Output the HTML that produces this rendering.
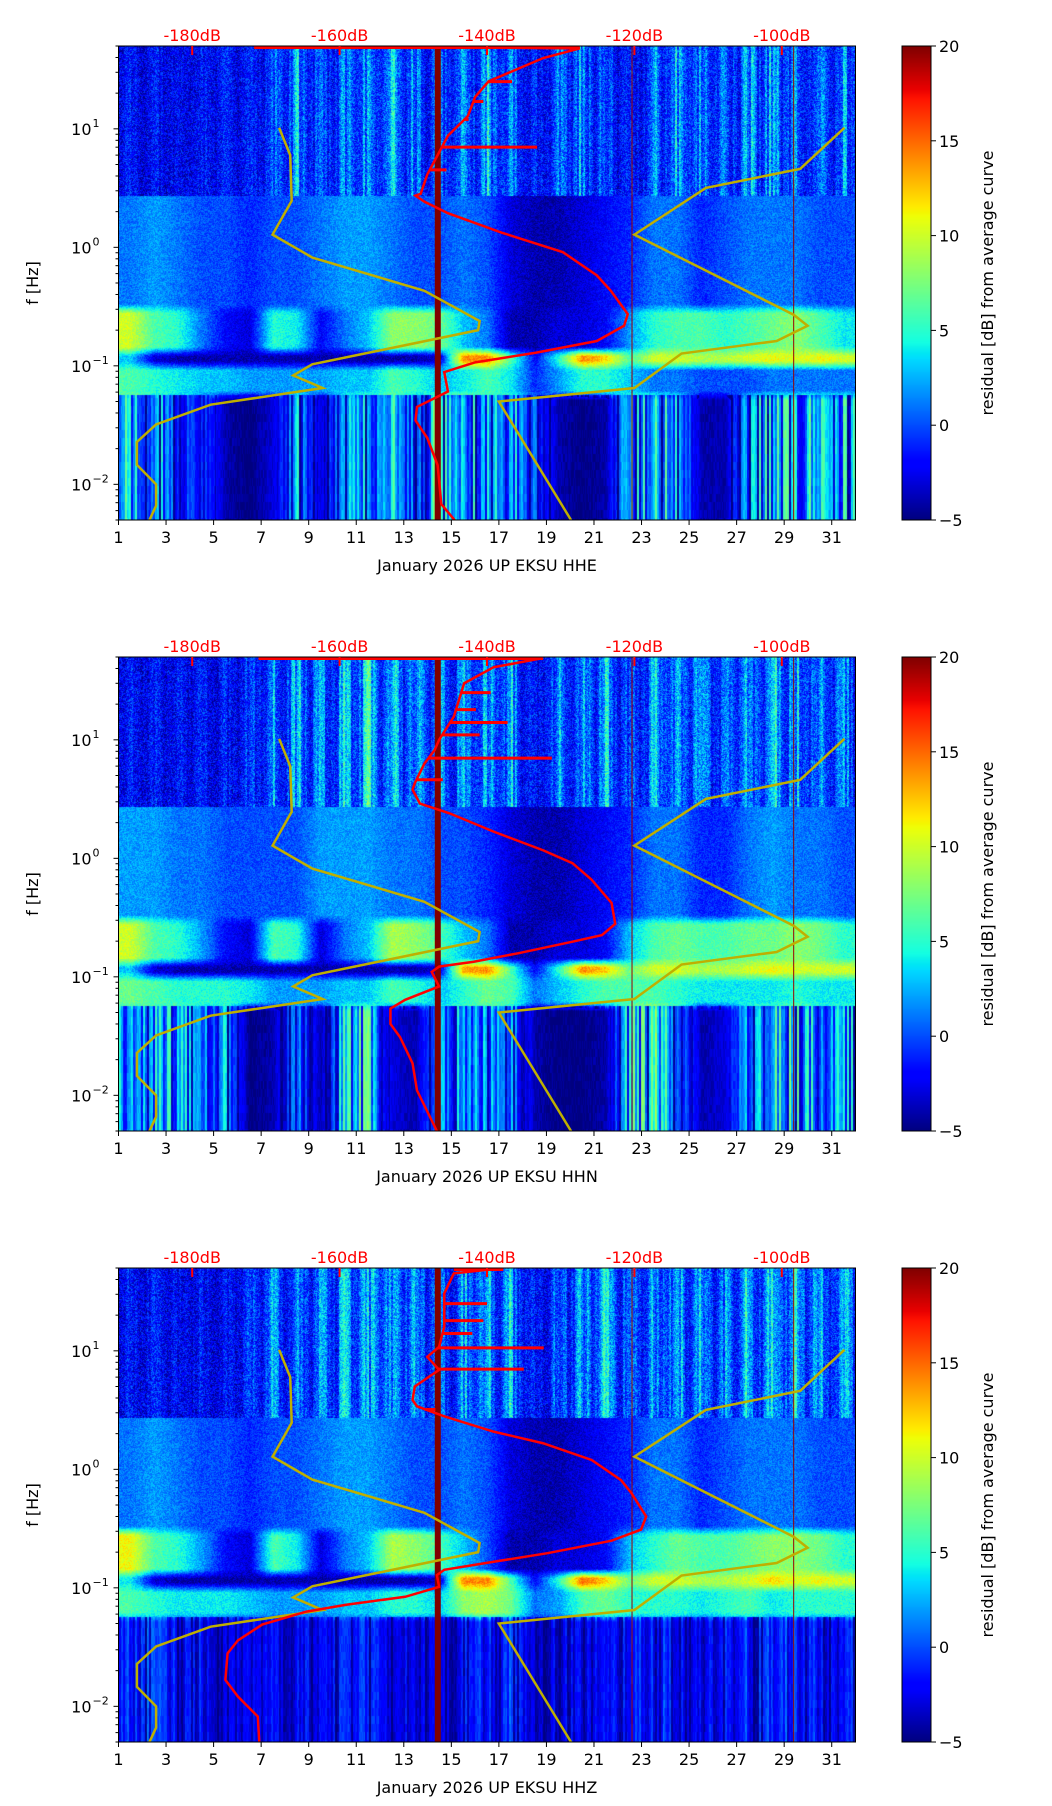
<!DOCTYPE html>
<html><head><meta charset="utf-8">
<style>
html,body{margin:0;padding:0;background:#fff;}
#root{position:relative;width:1052px;height:1806px;overflow:hidden;font-family:"DejaVu Sans","Liberation Sans",sans-serif;}
canvas{position:absolute;}
svg{position:absolute;left:0;top:0;}
</style></head>
<body>
<div id="root">
<svg id="ov" width="1052" height="1806"></svg>
</div>
<script>
// ---------- data ----------
const titles = ["January 2026 UP EKSU  HHE","January 2026 UP EKSU  HHN","January 2026 UP EKSU  HHZ"];
const dayTicks = [1,3,5,7,9,11,13,15,17,19,21,23,25,27,29,31];
const dbTicks = [-180,-160,-140,-120,-100];
const cbTicks = [-5,0,5,10,15,20];
// residual dB per day interval (day 1..31) per frequency band
const p1High=[0,0,0,0,0,0,2,4,2,3,4,4,3,2,4,4,3,0,3,4,2,0,3,4,3,2,4,4,3,2,3];
const p1Mid=[1,2,1,0,0,-1,0,0,1,2,2,1,0,0,1,0,-3,-4,-4,-3,-2,-1,1,1,-1,0,1,1,1,0,0];
const p1Ms=[10,6,5,1,-2,-3,5,4,-2,1,3,8,8,7,3,1,-4,-4,-3,-3,-2,2,5,6,6,5,6,7,8,6,4];
const p1B01=[3,-3,-4,-4,-4,-4,-4,-4,-4,-4,-4,-4,-4,-3,14,14,6,-2,5,14,12,6,10,10,9,9,10,11,10,11,10];
const p1LowMid=[6,5,4,3,3,2,2,2,2,3,3,6,5,3,4,6,4,-1,2,5,5,3,1,1,0,0,0,1,1,1,1];
const p1Low=[7,5,4,1,-4,-5,-3,6,-3,5,7,7,2,10,9,5,6,2,-4,-5,-4,7,8,6,-4,-4,5,7,8,7,7];
const p2High=[0,0,0,0,0,1,3,4,3,4,5,5,4,3,4,4,4,0,3,4,4,1,4,5,4,2,4,5,4,4,3];
const p2Mid=[2,2,1,1,0,0,0,0,2,2,2,1,1,0,0,-1,-3,-4,-4,-3,-2,-1,1,1,-1,-1,1,2,1,1,0];
const p2Ms=[10,6,5,2,-2,-3,6,5,-3,1,3,9,8,6,3,1,-4,-4,-3,-3,-2,3,6,7,6,6,7,7,8,7,5];
const p2B01=[3,-3,-4,-4,-4,-4,-4,-4,-4,-4,-4,-4,-4,-3,13,14,6,-2,5,14,12,7,10,10,9,9,10,11,10,10,10];
const p2LowMid=[7,6,5,5,5,4,2,2,2,3,3,6,5,3,5,7,6,1,3,5,6,6,6,5,4,4,4,4,5,4,4];
const p2Low=[5,6,7,3,5,-5,-4,3,-4,7,8,-3,-4,5,6,5,4,-4,-5,-5,-4,8,10,6,-4,-3,6,7,8,6,6];
const p3High=[0,0,0,0,0,1,3,3,3,4,4,5,4,3,4,4,4,0,3,4,5,2,4,5,4,3,5,5,5,4,4];
const p3Mid=[1,2,1,0,0,-1,0,0,1,2,2,1,0,0,1,0,-3,-4,-4,-3,-2,-1,1,1,-1,0,1,1,1,0,0];
const p3Ms=[11,6,5,2,-2,-3,6,4,-3,1,3,9,8,6,3,0,-4,-4,-3,-3,-2,3,5,7,6,6,7,8,8,7,5];
const p3B01=[4,-3,-4,-4,-4,-4,-4,-4,-4,-4,-4,-4,-4,-3,14,14,6,-2,5,15,12,7,10,10,9,9,10,12,10,11,10];
const p3LowMid=[6,5,4,4,4,3,2,2,2,3,3,5,5,3,8,9,7,1,2,6,7,5,5,5,4,5,6,4,5,5,5];
const p3Low=[1,1,0,0,-1,-1,-1,0,-1,0,0,-1,-1,-1,0,0,1,-2,-1,-1,-1,0,1,0,-1,0,1,1,1,0,0];
// noise model curves (freq Hz, dB)
const nlnmFreq=[10.2,6.0,2.47,1.28,0.82,0.43,0.239,0.2,0.103,0.083,0.065,0.047,0.032,0.0228,0.0146,0.01,0.0066,0.005];
const nlnmDb=[-168.2,-166.7,-166.5,-169.1,-163.7,-148.5,-141.0,-141.2,-163.7,-166.3,-162.3,-177.5,-184.9,-187.5,-187.5,-184.9,-184.9,-185.8];
const nhnmFreq=[10.2,4.6,3.17,1.28,0.27,0.218,0.162,0.127,0.065,0.05,0.005];
const nhnmDb=[-91.5,-97.5,-110.3,-120.0,-98.4,-96.5,-100.7,-113.6,-120.0,-138.4,-128.6];
// average PSD curves
const red1Freq=[50,47.8,39.5,31.5,25.1,18.6,12.8,8.75,6.0,4.12,2.83,2.73,2.43,1.94,1.33,0.91,0.58,0.43,0.273,0.218,0.162,0.129,0.107,0.0885,0.0607,0.045,0.0346,0.0246,0.0145,0.0068,0.005];
const red1Db=[-171.6,-127.4,-132.4,-136.1,-139.8,-141.6,-142.6,-145.3,-146.7,-148.1,-149.0,-149.7,-148.5,-145.3,-138.0,-129.7,-125.1,-123.2,-120.9,-121.4,-125.1,-133.4,-141.6,-145.8,-145.3,-149.5,-149.7,-148.1,-146.7,-146.2,-144.4];
const red2Freq=[50,49,41,30,15.7,10,8.2,6.3,4.3,3.8,2.9,2.4,1.68,1.17,0.91,0.66,0.42,0.28,0.225,0.198,0.158,0.134,0.122,0.11,0.083,0.064,0.054,0.040,0.031,0.0186,0.011,0.005];
const red2Db=[-171,-132.4,-139.1,-143.1,-144.5,-146.5,-147.1,-148.5,-149.8,-150.1,-149.1,-145.1,-139.1,-132.4,-128.4,-125.8,-123.1,-122.6,-124.4,-128.4,-135.8,-141.8,-146.5,-147.5,-146.5,-151.1,-153.1,-153.1,-151.8,-150.1,-149.5,-146.8];
const red3Freq=[50,45,30.5,16,10.8,8.9,6.9,5,3.85,3.4,2.8,2.08,1.66,1.2,0.81,0.63,0.40,0.31,0.25,0.196,0.166,0.142,0.128,0.102,0.084,0.072,0.063,0.049,0.036,0.028,0.0167,0.0121,0.0082,0.005];
const red3Db=[-137.8,-144.5,-145.8,-145.8,-146.5,-148.1,-146.5,-149.8,-150.1,-149.5,-145.8,-139.1,-132.4,-125.8,-121.8,-120.4,-118.4,-119.1,-123.1,-131.8,-139.1,-145.8,-146.8,-146.5,-151.1,-159.1,-164.5,-170.5,-173.8,-175.2,-175.5,-173.8,-171.1,-170.9];
const spike1Freq=[7.0,25,17,12,4.5];
const spike1Db=[-133.2,-136.6,-140.5,-142.5,-145.5];
const spike2Freq=[7.0,14,11,25,18,4.6];
const spike2Db=[-131.2,-137.2,-141,-139.5,-141.5,-146];
const spike3Freq=[7.0,10.6,18,25,14,3.2];
const spike3Db=[-135,-132.3,-140.5,-140,-142,-147];
const vbarDay=14.43, thinDays=[22.6,29.4];

const panels=[
 {top:46, bands:[p1High,p1Mid,p1Ms,p1B01,p1LowMid,p1Low], rf:red1Freq, rd:red1Db, sf:spike1Freq, sd:spike1Db},
 {top:657,bands:[p2High,p2Mid,p2Ms,p2B01,p2LowMid,p2Low], rf:red2Freq, rd:red2Db, sf:spike2Freq, sd:spike2Db},
 {top:1268,bands:[p3High,p3Mid,p3Ms,p3B01,p3LowMid,p3Low], rf:red3Freq, rd:red3Db, sf:spike3Freq, sd:spike3Db}
];
// ---------- geometry ----------
const X0=118.5, W=737, H=474, LT=Math.log10(50), LB=Math.log10(0.005);
const CBX=902, CBW=29;
function xDay(d){return X0+(d-1)/31*W;}
function xDb(db){return X0+(db+190)/100*W;}
function yF(f,top){return top+(LT-Math.log10(f))/(LT-LB)*H;}
function yCb(v,top){return top+H-(v+5)/25*H;}
function lerp(pts,t){for(let i=1;i<pts.length;i++){if(t<=pts[i][0]){const a=pts[i-1],b=pts[i];return a[1]+(b[1]-a[1])*(t-a[0])/(b[0]-a[0]);}}return pts[pts.length-1][1];}
function jet(v){let t=Math.max(0,Math.min(1,(v+5)/25));
 const r=lerp([[0,0],[0.35,0],[0.66,1],[0.89,1],[1,0.5]],t);
 const g=lerp([[0,0],[0.125,0],[0.375,1],[0.64,1],[0.91,0],[1,0]],t);
 const b=lerp([[0,0.5],[0.11,1],[0.34,1],[0.65,0],[1,0]],t);
 return [r*255|0,g*255|0,b*255|0];}
function hash(a,b){let h=(a*374761393+b*668265263)|0;h=(h^(h>>>13))*1274126177|0;return ((h^(h>>>16))>>>0)/4294967295;}
const edges=[0.43,-0.52,-0.88,-1.0,-1.25];
function dayVal(arr,d){const c=d-1.5;const i=Math.floor(c);const f=c-i;const a=arr[Math.max(0,Math.min(30,i))],b=arr[Math.max(0,Math.min(30,i+1))];return a+(b-a)*f;}
const svgNS="http://www.w3.org/2000/svg";
const ov=document.getElementById('ov');
const root=document.getElementById('root');
function mk(tag,attrs,parent){const e=document.createElementNS(svgNS,tag);for(const k in attrs)e.setAttribute(k,attrs[k]);(parent||ov).appendChild(e);return e;}

panels.forEach((p,pi)=>{
 const cv=document.createElement('canvas');cv.width=W;cv.height=H;
 cv.style.left=X0+'px';cv.style.top=p.top+'px';
 
 
 root.insertBefore(cv,ov);
 const ctx=cv.getContext('2d');const img=ctx.createImageData(W,H);
 for(let px=0;px<W;px++){
  const d=1+(px+0.5)/W*31; const tday=d-Math.floor(d);
  const diur=0.7+0.3*Math.cos(2*Math.PI*(tday-0.5));
  const vals=p.bands.map(a=>dayVal(a,d));
  const colN=hash(px,pi+7);
  const colN2=hash(px>>1,pi+31);
  for(let py=0;py<H;py++){
   const lf=LT-(py+0.5)/H*(LT-LB);
   let k=0;while(k<edges.length&&lf<edges[k])k++;
   let v=vals[k];
   if(k>0&&k-1>0){const e=edges[k-1];const dd=e-lf;if(dd<0.04){const w=0.5-dd/0.08;v=v*(1-w)+vals[k-1]*w;}}
   if(k<edges.length&&k>0){const e=edges[k];const dd=lf-e;if(dd<0.04){const w=0.5-dd/0.08;v=v*(1-w)+vals[k+1]*w;}}
   let n;
   if(k===0){v=-3.5+(v+2)*diur*(0.5+colN2); n=(hash(px,py+pi*1000)-0.5)*5;}
   else if(k===5){if(v>-2){v=-5+(v+5)*Math.pow(colN2,0.8);} n=(hash(px,py>>3)-0.5)*1.5;}
   else {n=(hash(px,py+pi*1000)-0.5)*2.5;}
   const c=jet(v+n);const o=(py*W+px)*4;
   img.data[o]=c[0];img.data[o+1]=c[1];img.data[o+2]=c[2];img.data[o+3]=255;
  }
 }
 ctx.putImageData(img,0,0);
 const cb=document.createElement('canvas');cb.width=CBW;cb.height=H;
 cb.style.left=CBX+'px';cb.style.top=p.top+'px';
 
 
 root.insertBefore(cb,ov);
 const cctx=cb.getContext('2d');
 for(let y=0;y<H;y++){const c=jet(20-(y+0.5)/H*25);cctx.fillStyle=`rgb(${c[0]},${c[1]},${c[2]})`;cctx.fillRect(0,y,CBW,1);}

 const g=mk('g',{});
 
 
 const clipId='clip'+pi;
 const cp=mk('clipPath',{id:clipId},g);mk('rect',{x:X0,y:p.top,width:W,height:H},cp);
 const lines=mk('g',{'clip-path':`url(#${clipId})`},g);
 const vb=mk('rect',{x:xDay(vbarDay)-3,y:p.top,width:6,height:H,fill:'#800000'},lines);
 
 
 thinDays.forEach(d=>{const l=mk('line',{x1:xDay(d),x2:xDay(d),y1:p.top,y2:p.top+H,stroke:'#990000','stroke-width':1},lines);
  
  });
 const nl=mk('polyline',{points:nlnmFreq.map((f,i)=>xDb(nlnmDb[i])+','+yF(f,p.top)).join(' '),fill:'none',stroke:'#bfaf00','stroke-width':2.5},lines);
 
 
 const nh=mk('polyline',{points:nhnmFreq.map((f,i)=>xDb(nhnmDb[i])+','+yF(f,p.top)).join(' '),fill:'none',stroke:'#bfaf00','stroke-width':2.5},lines);
 
 
 const rc=mk('polyline',{points:p.rf.map((f,i)=>xDb(p.rd[i])+','+yF(f,p.top)).join(' '),fill:'none',stroke:'#ff0000','stroke-width':2.5},lines);
 
 
 mk('line',{x1:xDb(p.rd[0]),x2:xDb(p.rd[1]),y1:p.top+1.5,y2:p.top+1.5,stroke:'#ff0000','stroke-width':3},lines);
 p.sf.forEach((f,i)=>{
  let base=-146;for(let j=1;j<p.rf.length;j++){if(f>=p.rf[j]){const a=Math.log10(p.rf[j-1]),b=Math.log10(p.rf[j]);const t=(Math.log10(f)-a)/(b-a);base=p.rd[j-1]+(p.rd[j]-p.rd[j-1])*t;break;}}
  const s=mk('line',{x1:xDb(base),x2:xDb(p.sd[i]),y1:yF(f,p.top),y2:yF(f,p.top),stroke:'#ff0000','stroke-width':3},lines);
  
  
 });
 mk('rect',{x:X0,y:p.top,width:W,height:H,fill:'none',stroke:'#000','stroke-width':1},g);
 mk('rect',{x:CBX,y:p.top,width:CBW,height:H,fill:'none',stroke:'#000','stroke-width':1},g);
 dayTicks.forEach(d=>{const x=xDay(d);
  mk('line',{x1:x,x2:x,y1:p.top+H,y2:p.top+H+5,stroke:'#000'},g);
  const t=mk('text',{x:x,y:p.top+H+23,'font-size':16,'text-anchor':'middle',fill:'#000'},g);t.textContent=d;
  
  });
 const xt=mk('text',{x:X0+W/2,y:p.top+H+51,'font-size':16,'text-anchor':'middle',fill:'#000'},g);xt.textContent=titles[pi];
 
 
 dbTicks.forEach(db=>{const x=xDb(db);
  mk('line',{x1:x,x2:x,y1:p.top,y2:p.top+9,stroke:'#ff0000','stroke-width':2},g);
  const t=mk('text',{x:x,y:p.top-5,'font-size':16,'text-anchor':'middle',fill:'#ff0000'},g);t.textContent=db+'dB';
  
  });
 for(let e=-3;e<=1;e++){for(let m=1;m<10;m++){const f=m*Math.pow(10,e);if(f<0.005||f>50)continue;const y=yF(f,p.top);
  mk('line',{x1:X0-(m===1?5:3),x2:X0,y1:y,y2:y,stroke:'#000'},g);}}
 [-2,-1,0,1].forEach(e=>{const y=yF(Math.pow(10,e),p.top);
  const t=mk('text',{x:X0-27,y:y+6,'font-size':16,'text-anchor':'end',fill:'#000'},g);t.textContent='10';
  
  
  const s=mk('text',{x:X0-26,y:y-2,'font-size':11,'text-anchor':'start',fill:'#000'},g);s.textContent=(e<0?'\u2212':'')+Math.abs(e);
  
  });
 const yt=mk('text',{x:0,y:0,'font-size':16,'text-anchor':'middle',fill:'#000',transform:`translate(38,${p.top+H/2}) rotate(-90)`},g);yt.textContent='f [Hz]';
 
 
 cbTicks.forEach(v=>{const y=yCb(v,p.top);
  mk('line',{x1:CBX+CBW,x2:CBX+CBW+5,y1:y,y2:y,stroke:'#000'},g);
  const t=mk('text',{x:CBX+CBW+8,y:y+6,'font-size':16,fill:'#000'},g);t.textContent=(v<0?'\u2212':'')+Math.abs(v);
  
  });
 const ct=mk('text',{x:0,y:0,'font-size':16,'text-anchor':'middle',fill:'#000',transform:`translate(993,${p.top+H/2}) rotate(-90)`},g);ct.textContent='residual [dB] from average curve';
 
 
});
</script>
</body></html>
